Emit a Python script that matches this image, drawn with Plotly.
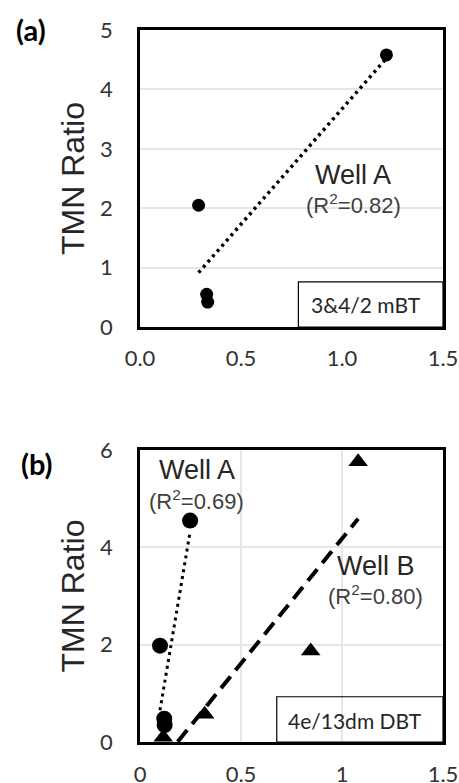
import numpy as np
import plotly.graph_objects as go

# ---- data ----
a_wellA_x = [1.22, 0.29, 0.33, 0.335]
a_wellA_y = [4.58, 2.05, 0.55, 0.42]

b_wellA_x = [0.248, 0.099, 0.12, 0.122]
b_wellA_y = [4.55, 1.98, 0.48, 0.35]
b_wellB_x = [1.08, 0.845, 0.32, 0.115]
b_wellB_y = [5.76, 1.87, 0.57, 0.10]

a_xtickvals = [0, 0.5, 1.0, 1.5]
a_xticktext = ["0.0", "0.5", "1.0", "1.5"]
a_ytickvals = [0, 1, 2, 3, 4, 5]
b_xtickvals = [0, 0.5, 1.0, 1.5]
b_xticktext = ["0", "0.5", "1", "1.5"]
b_ytickvals = [0, 2, 4, 6]

W, H = 459, 783
TICKFONT = dict(family="Lato, Open Sans, sans-serif", size=22, color="#333333")
ARIAL = "Liberation Sans, Arial, sans-serif"


def fit_line(x, y):
    x = np.asarray(x, float)
    y = np.asarray(y, float)
    m, c = np.polyfit(x, y, 1)
    xs = np.array([x.min(), x.max()])
    return xs, m * xs + c


fig = go.Figure()

# panel (a)
xs, ys = fit_line(a_wellA_x, a_wellA_y)
fig.add_trace(go.Scatter(x=xs, y=ys, mode="lines", xaxis="x", yaxis="y",
                         line=dict(color="black", width=3.5, dash="3px,4px"),
                         showlegend=False, hoverinfo="skip"))
fig.add_trace(go.Scatter(x=a_wellA_x, y=a_wellA_y, mode="markers", xaxis="x", yaxis="y",
                         marker=dict(symbol="circle", size=13, color="black"),
                         showlegend=False))

# panel (b)
xs, ys = fit_line(b_wellA_x, b_wellA_y)
fig.add_trace(go.Scatter(x=xs, y=ys, mode="lines", xaxis="x2", yaxis="y2",
                         line=dict(color="black", width=3, dash="3px,4px"),
                         showlegend=False, hoverinfo="skip"))
xs, ys = fit_line(b_wellB_x, b_wellB_y)
fig.add_trace(go.Scatter(x=xs, y=ys, mode="lines", xaxis="x2", yaxis="y2",
                         line=dict(color="black", width=4, dash="15px,8px"),
                         showlegend=False, hoverinfo="skip"))
fig.add_trace(go.Scatter(x=b_wellA_x, y=b_wellA_y, mode="markers", xaxis="x2", yaxis="y2",
                         marker=dict(symbol="circle", size=16, color="black"),
                         showlegend=False))
fig.add_trace(go.Scatter(x=b_wellB_x, y=b_wellB_y, mode="markers", xaxis="x2", yaxis="y2",
                         marker=dict(symbol="triangle-up", size=17, color="black"),
                         showlegend=False))

xd = [140 / W, 443 / W]
ya = [1 - 327 / H, 1 - 30 / H]
yb = [1 - 742 / H, 1 - 450 / H]

common_axis = dict(showline=True, linecolor="black", linewidth=2.5, mirror=True,
                   zeroline=False, ticks="outside", tickcolor="rgba(0,0,0,0)",
                   tickfont=TICKFONT, gridcolor="#e6e6e6", gridwidth=1.5,
                   automargin=False)

ytitle = dict(text="TMN Ratio", font=dict(family=ARIAL, size=32, color="#262626"),
              standoff=6)

fig.update_layout(
    width=W, height=H,
    margin=dict(l=0, r=0, t=0, b=0),
    paper_bgcolor="white", plot_bgcolor="white",
    xaxis=dict(domain=xd, range=[0, 1.5], tickvals=a_xtickvals, ticktext=a_xticktext,
               showgrid=False, anchor="y", ticklen=10, **common_axis),
    yaxis=dict(domain=ya, range=[0, 5], tickvals=a_ytickvals, showgrid=True,
               anchor="x", ticklen=20, title=ytitle, **common_axis),
    xaxis2=dict(domain=xd, range=[0, 1.5], tickvals=b_xtickvals, ticktext=b_xticktext,
                showgrid=True, anchor="y2", ticklen=11, **common_axis),
    yaxis2=dict(domain=yb, range=[0, 6], tickvals=b_ytickvals, showgrid=True,
                anchor="x2", ticklen=20, title=ytitle, **common_axis),
)

# legend-like boxes
fig.add_shape(type="rect", xref="x", yref="y", x0=0.784, x1=1.5, y0=0, y1=0.76,
              line=dict(color="black", width=1.2), fillcolor="rgba(0,0,0,0)")
fig.add_shape(type="rect", xref="x2", yref="y2", x0=0.677, x1=1.5, y0=0, y1=0.93,
              line=dict(color="black", width=1.2), fillcolor="rgba(0,0,0,0)")

BOXFONT = dict(family="Lato, Open Sans, sans-serif", size=21, color="#262626")
ann = [
    dict(x=1.12, y=0.38, xref="x", yref="y", text="3&4/2 mBT", font=BOXFONT),
    dict(x=1.064, y=0.45, xref="x2", yref="y2", text="4e/13dm DBT", font=BOXFONT),
    dict(x=1.055, y=2.56, xref="x", yref="y", text="Well A",
         font=dict(family=ARIAL, size=27, color="#262626")),
    dict(x=1.055, y=2.07, xref="x", yref="y", text="(R<sup>2</sup>=0.82)",
         font=dict(family=ARIAL, size=22, color="#404040")),
    dict(x=0.28, y=5.58, xref="x2", yref="y2", text="Well A",
         font=dict(family=ARIAL, size=27, color="#262626")),
    dict(x=0.28, y=4.97, xref="x2", yref="y2", text="(R<sup>2</sup>=0.69)",
         font=dict(family=ARIAL, size=22, color="#404040")),
    dict(x=1.167, y=3.61, xref="x2", yref="y2", text="Well B",
         font=dict(family=ARIAL, size=27, color="#262626")),
    dict(x=1.167, y=3.02, xref="x2", yref="y2", text="(R<sup>2</sup>=0.80)",
         font=dict(family=ARIAL, size=22, color="#404040")),
    dict(x=31 / W, y=1 - 30 / H, xref="paper", yref="paper", text="<b>(a)</b>",
         font=dict(family="Lato, Open Sans, sans-serif", size=29, color="black")),
    dict(x=37 / W, y=1 - 463 / H, xref="paper", yref="paper", text="<b>(b)</b>",
         font=dict(family="Lato, Open Sans, sans-serif", size=29, color="black")),
]
for a in ann:
    a.update(showarrow=False, xanchor="center", yanchor="middle")
    fig.add_annotation(**a)

fig.write_html("out.html")
